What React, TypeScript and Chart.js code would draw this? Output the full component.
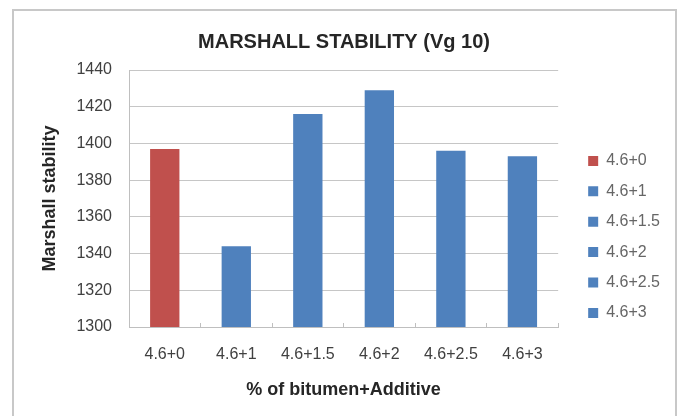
import React, { useEffect, useRef } from "react";
import { Chart, registerables } from "chart.js";

Chart.register(...registerables);

const categories = ["4.6+0", "4.6+1", "4.6+1.5", "4.6+2", "4.6+2.5", "4.6+3"];
const stability = [1397, 1344, 1416, 1429, 1396, 1393];
const barColors = ["#C0504D", "#4F81BD", "#4F81BD", "#4F81BD", "#4F81BD", "#4F81BD"];
const yMin = 1300;
const yMax = 1440;
const yStep = 20;

const FONT = "'Liberation Sans', Arial, sans-serif";

export default function App() {
  const ref = useRef<HTMLCanvasElement | null>(null);

  useEffect(() => {
    document.body.style.margin = "0";
    const canvas = ref.current;
    if (!canvas) return;
    Chart.defaults.font.family = FONT;
    const chart = new Chart(canvas, {
      type: "bar",
      data: {
        labels: categories,
        datasets: [
          {
            label: "Marshall stability",
            data: stability,
            backgroundColor: barColors,
            borderWidth: 0,
            barPercentage: 0.41,
            categoryPercentage: 1,
            yAxisID: "y",
          },
        ],
      },
      options: {
        responsive: false,
        animation: false,
        layout: { padding: { left: 18, right: 11, top: 10, bottom: 0 } },
        plugins: {
          tooltip: { enabled: false },
          title: {
            display: true,
            text: "MARSHALL STABILITY (Vg 10)",
            color: "#262626",
            font: { family: FONT, size: 20, weight: "bold" },
            padding: { top: 20, bottom: 16 },
          },
          legend: {
            position: "right",
            align: "start",
            title: { display: true, text: "", font: { size: 10 }, padding: { top: 116.5, bottom: 0 } },
            labels: {
              boxWidth: 10,
              boxHeight: 10,
              padding: 14.4,
              color: "#404040",
              font: { family: FONT, size: 16 },
              generateLabels: () =>
                categories.map((c, i) => ({
                  text: c,
                  fillStyle: barColors[i],
                  strokeStyle: barColors[i],
                  lineWidth: 0,
                  hidden: false,
                  index: i,
                  datasetIndex: 0,
                })),
            },
          },
        },
        scales: {
          x: {
            grid: {
              display: true,
              drawOnChartArea: false,
              drawTicks: true,
              tickLength: -4,
              color: "#bfbfbf",
              offset: true,
            },
            border: { display: true, color: "#bfbfbf" },
            ticks: { color: "#404040", font: { family: FONT, size: 16 }, padding: 22.4, maxRotation: 0 },
            title: {
              display: true,
              text: "% of bitumen+Additive",
              color: "#262626",
              font: { family: FONT, size: 18, weight: "bold" },
              padding: { top: 0, bottom: 15.2 },
            },
            afterFit: (s: any) => {
              s.height = 89;
            },
          },
          y: {
            min: yMin,
            max: yMax,
            ticks: {
              stepSize: yStep,
              color: "#404040",
              font: { family: FONT, size: 16 },
              padding: 17,
              callback: (v: any) => String(v),
            },
            grid: { color: "#c6c6c6", drawTicks: false },
            border: { display: true, color: "#bfbfbf" },
            title: {
              display: true,
              text: "Marshall stability",
              color: "#262626",
              font: { family: FONT, size: 18, weight: "bold" },
              padding: { top: 21.2, bottom: 0 },
            },
            afterFit: (s: any) => {
              s.width = 111;
            },
          },
          yR: {
            type: "linear",
            position: "right",
            display: true,
            grid: { display: false },
            ticks: { display: false },
            border: { display: false },
            afterFit: (s: any) => {
              s.width = 15.6;
            },
          },
        },
      },
    });
    return () => chart.destroy();
  }, []);

  return (
    <div
      style={{
        position: "fixed",
        left: 0,
        top: 0,
        width: 681,
        height: 416,
        overflow: "hidden",
        background: "#ffffff",
      }}
    >
      <div
        style={{
          position: "absolute",
          left: 12,
          top: 9,
          width: 665,
          height: 450,
          border: "2px solid #c8c8c8",
          boxSizing: "border-box",
        }}
      />
      <canvas
        ref={ref}
        width={681}
        height={416}
        style={{ position: "absolute", left: 0, top: 0, width: 681, height: 416 }}
      />
    </div>
  );
}
